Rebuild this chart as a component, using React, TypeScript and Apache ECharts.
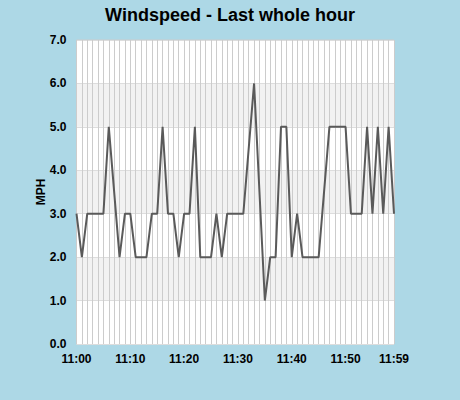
import React, { useEffect, useRef } from 'react';
import * as echarts from 'echarts';

// minutes of the hour, 11:00 .. 11:59
const minutes: string[] = Array.from({ length: 60 }, (_, i) => `11:${String(i).padStart(2, '0')}`);

// windspeed in MPH, null where no reading was stored (line is joined across)
const windspeed: (number | null)[] = [
  3, 2, 3, 3, 3, 3, 5, null, 2, 3,
  3, 2, 2, 2, 3, 3, 5, 3, 3, 2,
  3, 3, 5, 2, 2, 2, 3, 2, 3, 3,
  3, 3, null, 6, null, 1, 2, 2, 5, 5,
  2, 3, 2, 2, 2, 2, null, 5, 5, 5,
  5, 3, 3, 3, 5, 3, 5, 3, 5, 3,
];

// which x labels are shown
const labelIndexes = [0, 10, 20, 30, 40, 50, 59];

const font = 'Arial, "Liberation Sans", sans-serif';

const App: React.FC = () => {
  const chartRef = useRef<HTMLDivElement>(null);

  useEffect(() => {
    if (!chartRef.current) return;
    const chart = echarts.init(chartRef.current, undefined, { renderer: 'svg' });

    chart.setOption({
      animation: false,
      backgroundColor: '#add8e6',
      title: {
        text: 'Windspeed - Last whole hour',
        left: 'center',
        top: 1,
        textStyle: { fontFamily: font, fontSize: 18, fontWeight: 'bold', color: '#000' },
      },
      grid: {
        left: 76.5,
        right: 66,
        top: 40,
        bottom: 56,
        show: true,
        backgroundColor: '#fff',
        borderColor: '#cccccc',
        borderWidth: 1,
      },
      xAxis: {
        type: 'category',
        data: minutes,
        boundaryGap: false,
        axisLine: { show: false },
        axisTick: { show: false },
        axisLabel: {
          interval: (i: number) => labelIndexes.includes(i),
          hideOverlap: false,
          fontFamily: font,
          fontSize: 12,
          fontWeight: 'bold',
          color: '#000',
          margin: 9,
        },
        splitLine: { show: true, interval: 0, lineStyle: { color: '#cccccc', width: 1 } },
      },
      yAxis: {
        type: 'value',
        min: 0,
        max: 7,
        interval: 1,
        name: 'MPH',
        nameLocation: 'middle',
        nameGap: 30,
        nameMoveOverlap: false,
        nameTextStyle: { fontFamily: font, fontSize: 12, fontWeight: 'bold', color: '#000' },
        axisLine: { show: false },
        axisTick: { show: false },
        axisLabel: {
          formatter: (v: number) => v.toFixed(1),
          fontFamily: font,
          fontSize: 12,
          fontWeight: 'bold',
          color: '#000',
          margin: 10,
        },
        splitLine: { show: true, lineStyle: { color: '#dddddd', width: 1 } },
        splitArea: { show: true, areaStyle: { color: ['rgba(255,255,255,1)', 'rgba(242,242,242,1)'] } },
      },
      series: [
        {
          name: 'Windspeed',
          type: 'line',
          data: windspeed,
          connectNulls: true,
          symbol: 'none',
          lineStyle: { color: '#5a5a5a', width: 2 },
        },
      ],
    });

    return () => {
      chart.dispose();
    };
  }, []);

  return (
    <div
      ref={chartRef}
      style={{ position: 'fixed', left: 0, top: 0, width: '460px', height: '400px' }}
    />
  );
};

export default App;
